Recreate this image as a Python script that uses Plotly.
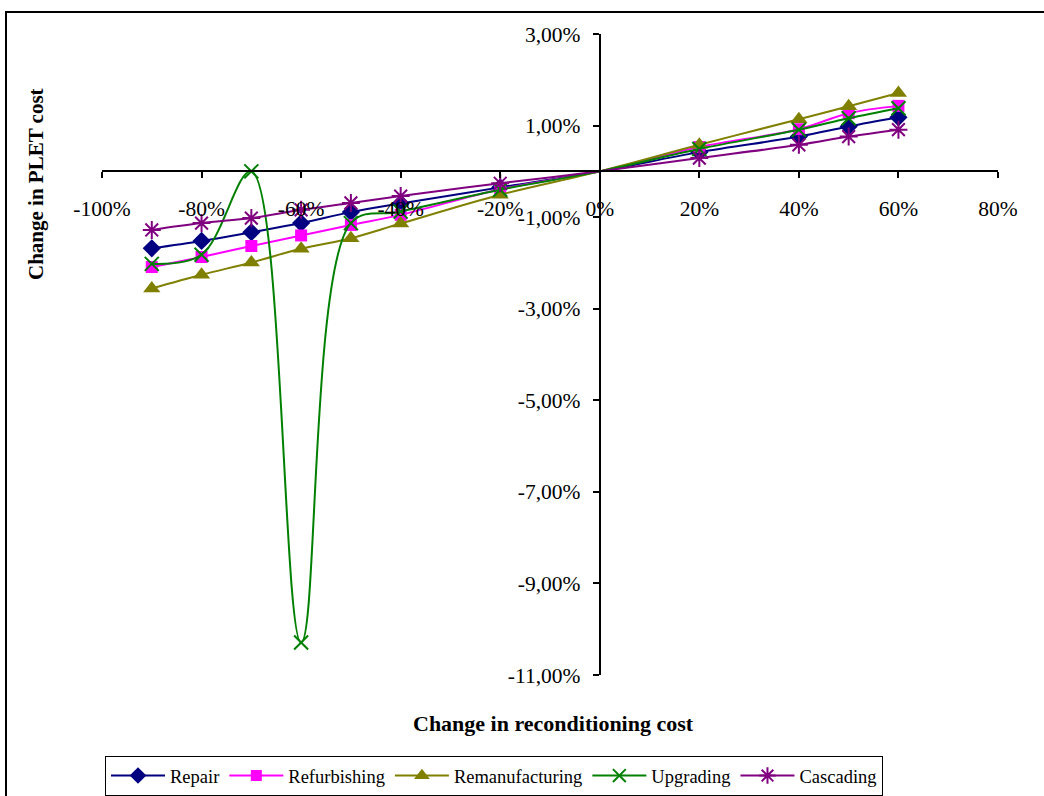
import plotly.graph_objects as go

# ---- data (fractions of x, percent values of y) ----
x_vals = [-0.9, -0.8, -0.7, -0.6, -0.5, -0.4, -0.2, 0.0, 0.2, 0.4, 0.5, 0.6]

repair = [-1.68, -1.52, -1.33, -1.13, -0.89, -0.70, -0.35, 0.0, 0.42, 0.76, 0.98, 1.18]
refurbishing = [-2.09, -1.87, -1.63, -1.40, -1.17, -0.95, -0.39, 0.0, 0.53, 0.92, 1.27, 1.43]
remanufacturing = [-2.56, -2.26, -1.99, -1.69, -1.46, -1.14, -0.51, 0.0, 0.58, 1.14, 1.42, 1.71]
upgrading = [-2.02, -1.82, 0.00, -10.29, -1.13, -0.88, -0.40, 0.0, 0.49, 0.91, 1.16, 1.38]
cascading = [-1.28, -1.13, -1.02, -0.84, -0.69, -0.54, -0.26, 0.0, 0.29, 0.58, 0.76, 0.91]

series_names = ["Repair", "Refurbishing", "Remanufacturing", "Upgrading", "Cascading"]
series_values = [repair, refurbishing, remanufacturing, upgrading, cascading]

y_tickvals_pct = [3, 1, -1, -3, -5, -7, -9, -11]
x_tickvals_pct = [-100, -80, -60, -40, -20, 0, 20, 40, 60, 80]

y_ticktext = [f"{v:.2f}".replace(".", ",") + "%" for v in y_tickvals_pct]
x_ticktext = [f"{v}%" for v in x_tickvals_pct]

styles = {
    "Repair": dict(color="#000080", symbol="diamond", size=14, mline=0),
    "Refurbishing": dict(color="#FF00FF", symbol="square", size=12, mline=0),
    "Remanufacturing": dict(color="#808000", symbol="triangle-up", size=15, mline=0),
    "Upgrading": dict(color="#008000", symbol="x-thin", size=14, mline=2),
    "Cascading": dict(color="#800080", symbol="asterisk", size=15, mline=2),
}

FONT = "Liberation Serif, Times New Roman, serif"

fig = go.Figure()
for name, vals in zip(series_names, series_values):
    st = styles[name]
    sizes = [0 if xv == 0 else st["size"] for xv in x_vals]
    fig.add_trace(go.Scatter(
        x=x_vals, y=[v / 100 for v in vals], name=name,
        mode="lines+markers",
        line=dict(color=st["color"], width=2, shape="spline", smoothing=1),
        marker=dict(symbol=st["symbol"], size=sizes, color=st["color"], opacity=1,
                    line=dict(color=st["color"], width=st["mline"])),
    ))

x_rng = [-1.0, 0.8]
y_rng = [-0.11, 0.03]
x_zero_pos = (0 - x_rng[0]) / (x_rng[1] - x_rng[0])
y_zero_pos = (0 - y_rng[0]) / (y_rng[1] - y_rng[0])

L, T, W, H = 102, 34, 896, 641


def px(xp):
    return (xp - L) / W


def py(yp):
    return (T + H - yp) / H


fig.update_layout(
    width=1044, height=796,
    margin=dict(l=102, r=46, t=34, b=121, autoexpand=False),
    paper_bgcolor="white", plot_bgcolor="white",
    font=dict(family=FONT, size=20, color="black"),
    showlegend=True,
    legend=dict(orientation="h", x=px(494), xanchor="center", y=py(756), yanchor="top",
                bordercolor="black", borderwidth=1, bgcolor="white",
                font=dict(family=FONT, size=18.5), itemwidth=54, tracegroupgap=0),
    xaxis=dict(range=x_rng, anchor="free", position=y_zero_pos,
               tickvals=[v / 100 for v in x_tickvals_pct], ticktext=x_ticktext,
               ticks="outside", ticklen=6, tickwidth=2, tickcolor="black",
               showline=True, linecolor="black", linewidth=2,
               showgrid=False, zeroline=False, ticklabelstandoff=12,
               tickfont=dict(family=FONT, size=21.5)),
    yaxis=dict(range=y_rng, anchor="free", position=x_zero_pos,
               tickvals=[v / 100 for v in y_tickvals_pct], ticktext=y_ticktext,
               ticks="outside", ticklen=6, tickwidth=2, tickcolor="black",
               showline=True, linecolor="black", linewidth=2,
               showgrid=False, zeroline=False, ticklabelstandoff=8,
               tickfont=dict(family=FONT, size=21.5)),
    annotations=[
        dict(text="<b>Change in reconditioning cost</b>", xref="paper", yref="paper",
             x=px(553), y=py(723), showarrow=False,
             font=dict(family=FONT, size=22), xanchor="center", yanchor="middle"),
        dict(text="<b>Change in PLET cost</b>", xref="paper", yref="paper",
             x=px(36), y=py(184), showarrow=False, textangle=-90,
             font=dict(family=FONT, size=21), xanchor="center", yanchor="middle"),
    ],
    shapes=[
        dict(type="rect", xref="paper", yref="paper",
             x0=px(6), x1=px(1060), y0=py(820), y1=py(12),
             line=dict(color="black", width=2), fillcolor="rgba(0,0,0,0)", layer="below"),
    ],
)

fig.write_html(
    "out.html",
    config={"displayModeBar": False},
    post_script="document.body.style.margin='0';document.body.style.overflow='hidden';",
)
